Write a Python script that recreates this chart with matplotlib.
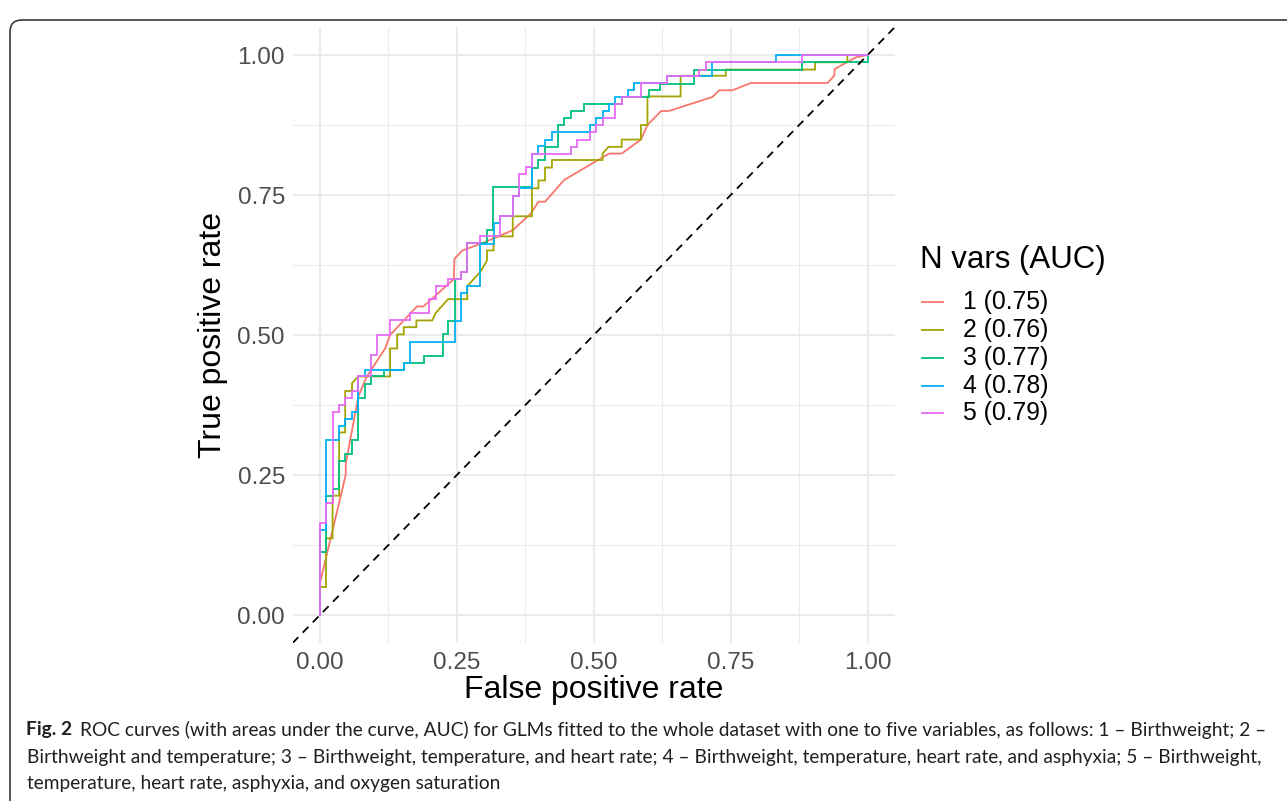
import matplotlib
matplotlib.use("Agg")
import matplotlib.pyplot as plt
from matplotlib.lines import Line2D
from matplotlib.patches import FancyBboxPatch

# ---------------- data ----------------
legend_title = "N vars (AUC)"
labels = ["1 (0.75)", "2 (0.76)", "3 (0.77)", "4 (0.78)", "5 (0.79)"]
colors = ["#F8766D", "#A3A500", "#00BF7D", "#00B0F6", "#E76BF3"]
tick_vals = [0.0, 0.25, 0.5, 0.75, 1.0]
tick_labels = ["0.00", "0.25", "0.50", "0.75", "1.00"]

fpr1 = [0, 0, 0.047, 0.047, 0.07, 0.085, 0.119, 0.128, 0.177, 0.189, 0.2445, 0.2455, 0.260,
        0.294, 0.352, 0.385, 0.399, 0.411, 0.446, 0.528, 0.551, 0.586, 0.598, 0.623, 0.637,
        0.7165, 0.729, 0.753, 0.787, 0.927, 0.939, 0.940, 0.979, 1.0]
tpr1 = [0, 0.057, 0.25, 0.27, 0.39, 0.425, 0.476, 0.50, 0.551, 0.551, 0.600, 0.636, 0.651,
        0.663, 0.687, 0.717, 0.738, 0.738, 0.777, 0.824, 0.824, 0.849, 0.875, 0.900, 0.900,
        0.925, 0.937, 0.937, 0.950, 0.950, 0.963, 0.975, 0.996, 1.0]

fpr2 = [0, 0, 0.011, 0.011, 0.023, 0.023, 0.035, 0.035, 0.046, 0.046, 0.0585, 0.0585, 0.07,
        0.128, 0.128, 0.141, 0.141, 0.153, 0.153, 0.176, 0.176, 0.205, 0.211, 0.222, 0.234,
        0.269, 0.269, 0.281, 0.293, 0.305, 0.305, 0.317, 0.317, 0.352, 0.352, 0.387, 0.387,
        0.399, 0.399, 0.411, 0.411, 0.4236, 0.4236, 0.516, 0.516, 0.527, 0.551, 0.551, 0.586,
        0.586, 0.598, 0.598, 0.6585, 0.6585, 0.741, 0.741, 0.904, 0.904, 0.963, 0.963, 1.0]
tpr2 = [0, 0.05, 0.05, 0.137, 0.137, 0.213, 0.213, 0.326, 0.326, 0.40, 0.40, 0.414, 0.426,
        0.426, 0.476, 0.476, 0.501, 0.501, 0.514, 0.514, 0.526, 0.526, 0.539, 0.551, 0.564,
        0.564, 0.5875, 0.60, 0.613, 0.633, 0.651, 0.651, 0.676, 0.676, 0.712, 0.712, 0.762,
        0.762, 0.776, 0.776, 0.799, 0.799, 0.8125, 0.8125, 0.824, 0.836, 0.836, 0.849, 0.849,
        0.875, 0.875, 0.926, 0.926, 0.963, 0.963, 0.974, 0.974, 0.987, 0.987, 1.0, 1.0]

fpr3 = [0, 0, 0.011, 0.011, 0.023, 0.023, 0.035, 0.035, 0.046, 0.046, 0.0585, 0.0585, 0.07,
        0.07, 0.082, 0.082, 0.093, 0.093, 0.117, 0.117, 0.153, 0.153, 0.1895, 0.1895, 0.225,
        0.225, 0.234, 0.234, 0.2457, 0.2457, 0.258, 0.258, 0.269, 0.269, 0.3056, 0.3056,
        0.3166, 0.3166, 0.387, 0.387, 0.399, 0.399, 0.411, 0.411, 0.434, 0.434, 0.446, 0.446,
        0.458, 0.458, 0.4814, 0.4814, 0.551, 0.551, 0.600, 0.600, 0.6215, 0.6215, 0.683, 0.683,
        0.881, 0.881, 1.0, 1.0]
tpr3 = [0, 0.113, 0.113, 0.213, 0.213, 0.225, 0.225, 0.275, 0.275, 0.2875, 0.2875, 0.3125,
        0.3125, 0.387, 0.387, 0.4125, 0.4125, 0.426, 0.426, 0.4375, 0.4375, 0.4506, 0.4506,
        0.463, 0.463, 0.5012, 0.5012, 0.5256, 0.5256, 0.600, 0.600, 0.613, 0.613, 0.6637,
        0.6637, 0.6875, 0.6875, 0.7637, 0.7637, 0.799, 0.799, 0.8125, 0.8125, 0.836, 0.836,
        0.875, 0.875, 0.8875, 0.8875, 0.9006, 0.9006, 0.9125, 0.9125, 0.9256, 0.9256, 0.9375,
        0.9375, 0.949, 0.949, 0.974, 0.974, 0.987, 0.987, 1.0]

fpr4 = [0, 0, 0.011, 0.011, 0.035, 0.035, 0.046, 0.046, 0.0585, 0.0585, 0.07, 0.07, 0.082,
        0.082, 0.153, 0.153, 0.165, 0.165, 0.2457, 0.2457, 0.258, 0.258, 0.269, 0.269, 0.293,
        0.293, 0.317, 0.317, 0.329, 0.329, 0.352, 0.352, 0.364, 0.364, 0.387, 0.387, 0.399,
        0.399, 0.411, 0.411, 0.4236, 0.4236, 0.4936, 0.4936, 0.504, 0.504, 0.516, 0.516, 0.527,
        0.527, 0.539, 0.539, 0.563, 0.563, 0.574, 0.574, 0.634, 0.634, 0.7165, 0.7165, 0.8335,
        0.8335, 1.0]
tpr4 = [0, 0.152, 0.152, 0.3125, 0.3125, 0.3375, 0.3375, 0.35, 0.35, 0.363, 0.363, 0.426,
        0.426, 0.4375, 0.4375, 0.4506, 0.4506, 0.488, 0.488, 0.5256, 0.5256, 0.5756, 0.5756,
        0.5875, 0.5875, 0.6625, 0.6625, 0.70, 0.70, 0.712, 0.712, 0.749, 0.749, 0.762, 0.762,
        0.824, 0.824, 0.837, 0.837, 0.849, 0.849, 0.862, 0.862, 0.875, 0.875, 0.8875, 0.8875,
        0.9006, 0.9006, 0.9125, 0.9125, 0.9256, 0.9256, 0.9375, 0.9375, 0.9505, 0.9505, 0.963,
        0.963, 0.987, 0.987, 1.0, 1.0]

fpr5 = [0, 0, 0.011, 0.011, 0.023, 0.023, 0.035, 0.035, 0.046, 0.046, 0.0585, 0.0585, 0.07,
        0.07, 0.093, 0.093, 0.105, 0.105, 0.128, 0.128, 0.165, 0.165, 0.199, 0.199, 0.211,
        0.211, 0.234, 0.234, 0.258, 0.258, 0.269, 0.269, 0.293, 0.293, 0.329, 0.329, 0.352,
        0.352, 0.364, 0.364, 0.376, 0.376, 0.388, 0.388, 0.458, 0.458, 0.469, 0.469, 0.4936,
        0.4936, 0.504, 0.504, 0.516, 0.516, 0.539, 0.539, 0.5515, 0.5515, 0.586, 0.586, 0.634,
        0.634, 0.693, 0.693, 0.704, 0.704, 0.881, 0.881, 1.0]
tpr5 = [0, 0.164, 0.164, 0.20, 0.20, 0.363, 0.363, 0.375, 0.375, 0.387, 0.387, 0.40, 0.40,
        0.426, 0.426, 0.464, 0.464, 0.50, 0.50, 0.526, 0.526, 0.539, 0.539, 0.564, 0.564,
        0.5875, 0.5875, 0.60, 0.60, 0.613, 0.613, 0.664, 0.664, 0.676, 0.676, 0.712, 0.712,
        0.749, 0.749, 0.7875, 0.7875, 0.7994, 0.7994, 0.824, 0.824, 0.836, 0.836, 0.849, 0.849,
        0.862, 0.862, 0.875, 0.875, 0.8875, 0.8875, 0.9125, 0.9125, 0.9256, 0.9256, 0.9505,
        0.9505, 0.963, 0.963, 0.974, 0.974, 0.987, 0.987, 1.0, 1.0]

caption_bold = "Fig. 2"
caption_lines = [
    "ROC curves (with areas under the curve, AUC) for GLMs fitted to the whole dataset with one to five variables, as follows: 1 \u2013 Birthweight; 2 \u2013",
    "Birthweight and temperature; 3 \u2013 Birthweight, temperature, and heart rate; 4 \u2013 Birthweight, temperature, heart rate, and asphyxia; 5 \u2013 Birthweight,",
    "temperature, heart rate, asphyxia, and oxygen saturation",
]

# ---------------- figure ----------------
W, H = 1287, 801
fig = plt.figure(figsize=(W / 100, H / 100), dpi=100)
fig.patch.set_facecolor("white")


def fx(x):
    return x / W


def fy(y):
    return 1 - y / H


# rounded outer frame
frame = FancyBboxPatch((10, -60), 1400, 851 - 10, boxstyle="round,pad=0,rounding_size=12",
                       transform=None, fill=False, edgecolor="#3a3a3a", linewidth=1.2)
fig.add_artist(frame)

AXL, AXR, AXT, AXB = 292.6, 895.0, 27.0, 643.0
ax = fig.add_axes([fx(AXL), fy(AXB), (AXR - AXL) / W, (AXB - AXT) / H])
ax.set_xlim(-0.05, 1.05)
ax.set_ylim(-0.05, 1.05)
for s in ax.spines.values():
    s.set_visible(False)

ax.set_xticks(tick_vals)
ax.set_yticks(tick_vals)
ax.set_xticks([0.125, 0.375, 0.625, 0.875], minor=True)
ax.set_yticks([0.125, 0.375, 0.625, 0.875], minor=True)
ax.set_xticklabels(tick_labels)
ax.set_yticklabels(tick_labels)
ax.grid(which="major", color="#EBEBEB", linewidth=1.45)
ax.grid(which="minor", color="#EBEBEB", linewidth=0.75)
ax.set_axisbelow(True)
ax.tick_params(which="both", length=0)
ax.tick_params(axis="x", pad=6.5, labelsize=17.5, labelcolor="#4D4D4D")
ax.tick_params(axis="y", pad=5.5, labelsize=17.5, labelcolor="#4D4D4D")
for lab in ax.get_xticklabels() + ax.get_yticklabels():
    lab.set_family("Liberation Sans")

curves = [(fpr1, tpr1), (fpr2, tpr2), (fpr3, tpr3), (fpr4, tpr4), (fpr5, tpr5)]
for (fp, tp), c in zip(curves, colors):
    ax.plot(fp, tp, color=c, linewidth=1.3, solid_joinstyle="miter")

ax.axline((0, 0), (1, 1), color="black", linewidth=1.3, linestyle=(0, (4.5, 3.5)))

# axis titles
fig.text(fx((AXL + AXR) / 2), fy(690), "False positive rate", ha="center", va="center",
         fontsize=23, family="Liberation Sans", color="black")
fig.text(fx(213), fy((AXT + AXB) / 2), "True positive rate", ha="center", va="center",
         rotation=90, fontsize=23, family="Liberation Sans", color="black")

# legend (manual ggplot-style)
fig.text(fx(920), fy(260), legend_title, ha="left", va="center", fontsize=22.5,
         family="Liberation Sans", color="black")
row_y = [302, 330, 358, 386, 413]
for yy, c, lab in zip(row_y, colors, labels):
    fig.add_artist(Line2D([fx(922), fx(943)], [fy(yy), fy(yy)], color=c, linewidth=1.3,
                          transform=fig.transFigure))
    fig.text(fx(963), fy(yy), lab, ha="left", va="center", fontsize=17.8,
             family="Liberation Sans", color="black")

# caption
cap_font = "Lato"
cap_color = "#231F20"
fig.canvas.draw()
r = fig.canvas.get_renderer()
fs = 12.5
probe = fig.text(0, 0, caption_lines[1], fontsize=fs, family=cap_font)
wprobe = probe.get_window_extent(r).width
probe.remove()
fs = fs * (1262 - 27) / wprobe

cap_y = [730, 757, 784]
tb = fig.text(fx(26), fy(cap_y[0]), caption_bold, ha="left", va="center", fontsize=fs,
              family=cap_font, fontweight="bold", color=cap_color)
wb = tb.get_window_extent(r).width
fig.text(fx(26 + wb + 8), fy(cap_y[0]), caption_lines[0], ha="left", va="center",
         fontsize=fs, family=cap_font, color=cap_color)
for yy, line in zip(cap_y[1:], caption_lines[1:]):
    fig.text(fx(27), fy(yy), line, ha="left", va="center", fontsize=fs, family=cap_font,
             color=cap_color)

fig.savefig("out.png", dpi=100, facecolor="white")
